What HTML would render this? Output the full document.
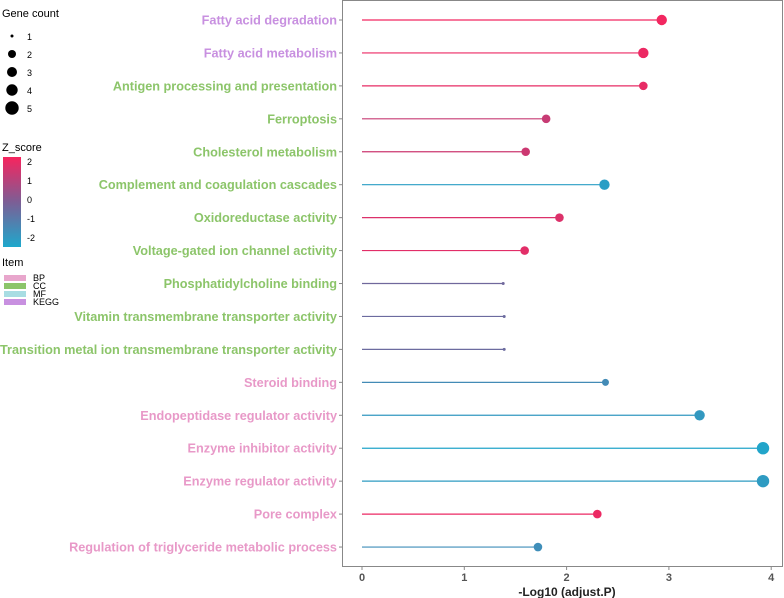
<!DOCTYPE html>
<html><head><meta charset="utf-8"><style>
body{margin:0;background:#fff;font-family:"Liberation Sans",sans-serif}
svg{display:block}
</style></head><body>
<svg id="chart" width="784" height="598" xmlns="http://www.w3.org/2000/svg">
<defs><linearGradient id="zg" x1="0" y1="0" x2="0" y2="1">
<stop offset="0" stop-color="#F7245E"/><stop offset="0.5" stop-color="#7C5E95"/><stop offset="1" stop-color="#1EA8CC"/></linearGradient></defs>
<g>
<text x="2" y="17" font-size="11">Gene count</text>
<circle cx="12" cy="36" r="1.5" fill="#000"/><text x="27" y="40" font-size="9">1</text>
<circle cx="12" cy="54" r="4" fill="#000"/><text x="27" y="58" font-size="9">2</text>
<circle cx="12" cy="72" r="5" fill="#000"/><text x="27" y="76" font-size="9">3</text>
<circle cx="12" cy="90" r="5.7" fill="#000"/><text x="27" y="94" font-size="9">4</text>
<circle cx="12" cy="108" r="6.7" fill="#000"/><text x="27" y="112" font-size="9">5</text>
</g>
<g>
<text x="2" y="151" font-size="11">Z_score</text>
<rect x="3" y="157" width="18" height="90" fill="url(#zg)"/>
<text x="27" y="165" font-size="9">2</text><text x="27" y="184" font-size="9">1</text>
<text x="27" y="203" font-size="9">0</text><text x="27" y="222" font-size="9">-1</text>
<text x="27" y="241" font-size="9">-2</text>
</g>
<g>
<text x="2" y="266" font-size="11">Item</text>
<rect x="4" y="275" width="22" height="6" fill="#E8A6CC"/><text x="33" y="281" font-size="9">BP</text>
<rect x="4" y="283" width="22" height="6" fill="#8CC56A"/><text x="33" y="289" font-size="9">CC</text>
<rect x="4" y="291" width="22" height="6" fill="#A8DDE3"/><text x="33" y="297" font-size="9">MF</text>
<rect x="4" y="299" width="22" height="6" fill="#C890E0"/><text x="33" y="305" font-size="9">KEGG</text>
</g>
<rect x="342.5" y="0.5" width="440" height="566" fill="none" stroke="#888"/>
<g id="marks"></g>
<text x="567" y="596" font-size="12" font-weight="bold" text-anchor="middle" fill="#222">-Log10 (adjust.P)</text>
</svg>
<script>
const terms=["Fatty acid degradation","Fatty acid metabolism","Antigen processing and presentation","Ferroptosis","Cholesterol metabolism","Complement and coagulation cascades","Oxidoreductase activity","Voltage-gated ion channel activity","Phosphatidylcholine binding","Vitamin transmembrane transporter activity","Transition metal ion transmembrane transporter activity","Steroid binding","Endopeptidase regulator activity","Enzyme inhibitor activity","Enzyme regulator activity","Pore complex","Regulation of triglyceride metabolic process"];
const logP=[2.93,2.75,2.75,1.8,1.6,2.37,1.93,1.59,1.38,1.39,1.39,2.38,3.3,3.92,3.92,2.3,1.72];
const zScore=[2.1,2.0,1.9,1.3,1.4,-2.1,1.7,1.8,-0.4,-0.5,-0.5,-1.5,-1.9,-2.3,-2.0,2.0,-1.6];
const geneCount=[4,4,3,3,3,4,3,3,1,1,1,2,4,5,5,3,3];
const items=["KEGG","KEGG","CC","CC","CC","CC","CC","CC","CC","CC","CC","BP","BP","BP","BP","BP","BP"];
const xTicks=[0,1,2,3,4];
const NS="http://www.w3.org/2000/svg";
const x=v=>362+v*102.3;
const y=i=>20+i*32.94;
const rad=c=>[0,1.5,3.5,4.3,5.2,6.2][c];
const labelCol={KEGG:"#C890E0",CC:"#8CC56A",MF:"#8FD0DA",BP:"#E899C8"};
function lerp(a,b,t){return a.map((v,k)=>Math.round(v+(b[k]-v)*t));}
function zc(z){const lo=[30,168,204],mid=[124,94,149],hi=[247,36,94];
 let t=(z+2.4)/4.6;t=Math.max(0,Math.min(1,t));
 const c=t<0.5?lerp(lo,mid,t*2):lerp(mid,hi,(t-0.5)*2);return `rgb(${c})`;}
const g=document.getElementById('marks');
function mk(tag,at){const e=document.createElementNS(NS,tag);for(const k in at)e.setAttribute(k,at[k]);g.appendChild(e);return e;}
xTicks.forEach(t=>{
 const tk=mk('line',{x1:x(t),x2:x(t),y1:566,y2:570,stroke:'#888'});
 
 
 const tl=mk('text',{x:x(t),y:581,'font-size':11,'font-weight':'bold','text-anchor':'middle',fill:'#555'});
 tl.textContent=t;
 
 
});
terms.forEach((t,i)=>{
 const c=zc(zScore[i]);
 const tk=mk('line',{x1:339,x2:342,y1:y(i),y2:y(i),stroke:'#888'});
 
 
 const lb=mk('text',{x:337,y:y(i)+4.5,'font-size':12.7,'font-weight':'bold','text-anchor':'end',fill:labelCol[items[i]]});
 lb.textContent=t;
 
 
 const ln=mk('line',{x1:x(0),x2:x(logP[i]),y1:y(i),y2:y(i),stroke:c,'stroke-width':1.2});
 
 
 const pt=mk('circle',{cx:x(logP[i]),cy:y(i),r:rad(geneCount[i]),fill:c});
 
 
});
</script>
</body></html>
